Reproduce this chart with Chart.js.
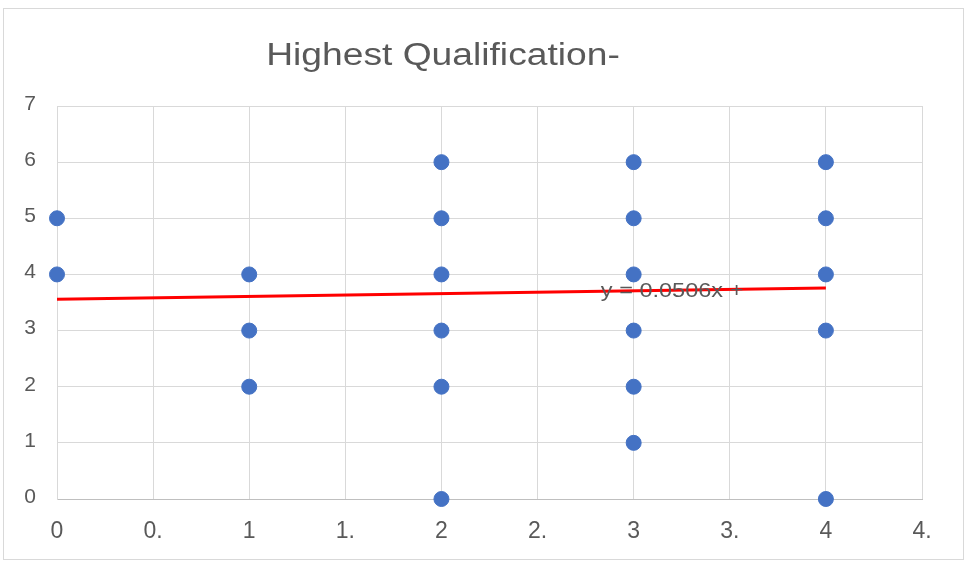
<!DOCTYPE html>
<html>
<head>
<meta charset="utf-8">
<script src="https://cdn.jsdelivr.net/npm/chart.js@4/dist/chart.umd.min.js"></script>
<style>
  html, body { margin: 0; padding: 0; background: #fff; }
  #wrap { width: 967px; height: 561px; }
</style>
</head>
<body>
<div id="wrap"><canvas id="scatterChart" width="967" height="561"></canvas></div>
<script>
// data
const qualX = [0, 0, 1, 1, 1, 2, 2, 2, 2, 2, 2, 3, 3, 3, 3, 3, 3, 4, 4, 4, 4, 4];
const qualY = [5, 4, 4, 3, 2, 6, 5, 4, 3, 2, 0, 6, 5, 4, 3, 2, 1, 6, 5, 4, 3, 0];
const trendX = [0, 4];
const trendY = [3.56, 3.76];
const xTickLabels = ['0', '0.', '1', '1.', '2', '2.', '3', '3.', '4', '4.'];
const chartTitle = 'Highest Qualification-';
const trendLabel = 'y = 0.0506x +';

const textColor = '#595959';
const gridColor = '#d9d9d9';
const fontFamily = '"Liberation Sans", Arial, sans-serif';

// draws text a bit wider than the font, like the reference
function wideText(ctx, text, x, y, size, stretch) {
    ctx.save();
    ctx.translate(x, y);
    ctx.scale(stretch, 1);
    ctx.fillStyle = textColor;
    ctx.font = size + 'px ' + fontFamily;
    ctx.textAlign = 'center';
    ctx.textBaseline = 'middle';
    ctx.fillText(text, 0, 0);
    ctx.restore();
}

// frame, title and trendline label
const decorPlugin = {
    id: 'decor',
    beforeDraw(chart) {
        const ctx = chart.ctx;
        ctx.save();
        ctx.fillStyle = '#fff';
        ctx.fillRect(0, 0, chart.width, chart.height);
        ctx.strokeStyle = gridColor;
        ctx.lineWidth = 1;
        ctx.strokeRect(3.5, 8.5, 960, 551);
        ctx.restore();
        wideText(ctx, chartTitle, 443, 56, 31, 1.2);
    },
    afterDatasetsDraw(chart) {
        const xs = chart.scales.x, ys = chart.scales.y;
        wideText(chart.ctx, trendLabel, xs.getPixelForValue(3.2), ys.getPixelForValue(3.7), 21, 1.12);
    }
};

const points = qualX.map((x, i) => ({ x: x, y: qualY[i] }));
const trend = trendX.map((x, i) => ({ x: x, y: trendY[i] }));

const ctx = document.getElementById('scatterChart').getContext('2d');
new Chart(ctx, {
    type: 'scatter',
    data: {
        datasets: [{
            label: 'Highest Qualification',
            data: points,
            backgroundColor: '#4472C4',
            borderColor: '#4472C4',
            pointRadius: 7.5,
            pointHoverRadius: 7.5,
            clip: false,
            order: 2
        }, {
            label: 'Trendline',
            data: trend,
            showLine: true,
            borderColor: '#FF0000',
            borderWidth: 3,
            pointRadius: 0,
            fill: false,
            clip: false,
            order: 1
        }]
    },
    options: {
        responsive: false,
        animation: false,
        layout: { padding: { top: 106, right: 45, bottom: 0, left: 0 } },
        plugins: {
            legend: { display: false },
            title: { display: false },
            tooltip: { enabled: false }
        },
        scales: {
            x: {
                type: 'linear',
                min: 0,
                max: 4.5,
                afterFit: scale => { scale.height = 62; },
                afterBuildTicks: scale => {
                    scale.ticks = xTickLabels.map((l, i) => ({ value: i * 0.5 }));
                },
                ticks: {
                    autoSkip: false,
                    maxRotation: 0,
                    padding: 19,
                    color: textColor,
                    font: { family: fontFamily, size: 23 },
                    callback: (value, index) => xTickLabels[index]
                },
                grid: { color: gridColor, drawTicks: false },
                border: { color: '#bfbfbf', width: 1 }
            },
            y: {
                min: 0,
                max: 7,
                afterFit: scale => { scale.width = 57; },
                ticks: {
                    stepSize: 1,
                    padding: 21,
                    labelOffset: -2,
                    color: textColor,
                    font: { family: fontFamily, size: 21 }
                },
                grid: { color: gridColor, drawTicks: false },
                border: { color: gridColor, width: 1 }
            }
        }
    },
    plugins: [decorPlugin]
});
</script>
</body>
</html>
